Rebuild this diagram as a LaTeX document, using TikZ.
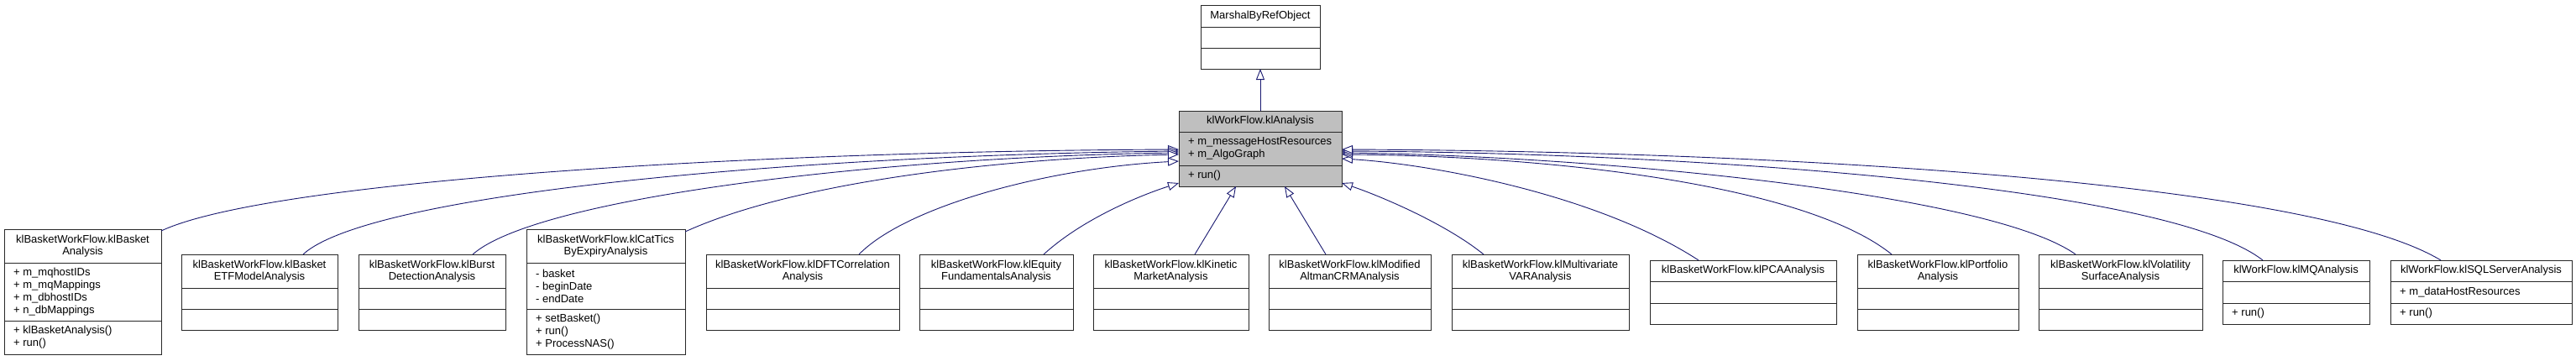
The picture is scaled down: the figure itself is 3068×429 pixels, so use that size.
\documentclass[tikz,border=0pt]{standalone}
\usepackage{fontspec}
\setmainfont{Liberation Sans}
\usetikzlibrary{arrows.meta,fit,calc}
\definecolor{edgec}{RGB}{25,25,112}
\definecolor{boxgray}{RGB}{191,191,191}
\definecolor{boxline}{RGB}{40,40,40}
\newcommand\uclass[7]{\def\ucn{#1}\def\ucl{#2}\def\ucr{#3}\def\uct{#4}\def\ucsa{#5}\def\ucsb{#6}\def\ucb{#7}\uclassB}
\newcommand\uclassB[4]{%
  \node[classbox, fill=#1, fit={(\ucl,\uct) (\ucr,\ucb)}] (\ucn) {};
  \draw[classline] (\ucl,\ucsa) -- (\ucr,\ucsa) (\ucl,\ucsb) -- (\ucr,\ucsb);
  \node[hdr] at ({(\ucl+\ucr)/2},{(\uct+\ucsa)/2}) {#2};
  \node[mem] at ({\ucl+11},{(\ucsa+\ucsb)/2}) {#3};
  \node[mem] at ({\ucl+11},{(\ucsb+\ucb)/2}) {#4};
}
\begin{document}
\begin{tikzpicture}[x=1pt,y=-1pt,
  classbox/.style={draw=boxline, line width=1pt, inner sep=0pt, outer sep=0pt},
  classline/.style={draw=boxline, line width=1pt},
  hdr/.style={inner sep=0pt, align=center, font=\fontsize{13}{14.5}\selectfont},
  mem/.style={inner sep=0pt, align=left, anchor=west, font=\fontsize{13}{15}\selectfont},
  inh/.style={draw=edgec, line width=0.9pt, -{Triangle[length=13pt,width=10pt,fill=white]}},
]
\fill[white] (0,0) rectangle (3068,429);
\useasboundingbox (0,0) rectangle (3068,429);

\uclass{msh}{1430}{1572}{6}{32}{57}{82}{white}{MarshalByRefObject}{}{}
\uclass{ana}{1404}{1598}{132}{157}{197}{222}{boxgray}{klWorkFlow.klAnalysis}{+ m\_messageHostResources\\+ m\_AlgoGraph}{+ run()}

\uclass{kba}{5}{192}{273}{313}{382}{422}{white}{klBasketWorkFlow.klBasket\\Analysis}{+ m\_mqhostIDs\\+ m\_mqMappings\\+ m\_dbhostIDs\\+ n\_dbMappings}{+ klBasketAnalysis()\\+ run()}
\uclass{etf}{216}{402}{303}{343}{368}{393}{white}{klBasketWorkFlow.klBasket\\ETFModelAnalysis}{}{}
\uclass{bur}{427}{602}{303}{343}{368}{393}{white}{klBasketWorkFlow.klBurst\\DetectionAnalysis}{}{}
\uclass{cat}{627}{816}{273}{313}{368}{422}{white}{klBasketWorkFlow.klCatTics\\ByExpiryAnalysis}{- basket\\- beginDate\\- endDate}{+ setBasket()\\+ run()\\+ ProcessNAS()}
\uclass{dft}{841}{1071}{303}{343}{368}{393}{white}{klBasketWorkFlow.klDFTCorrelation\\Analysis}{}{}
\uclass{equ}{1095}{1278}{303}{343}{368}{393}{white}{klBasketWorkFlow.klEquity\\FundamentalsAnalysis}{}{}
\uclass{kin}{1302}{1487}{303}{343}{368}{393}{white}{klBasketWorkFlow.klKinetic\\MarketAnalysis}{}{}
\uclass{mod}{1511}{1704}{303}{343}{368}{393}{white}{klBasketWorkFlow.klModified\\AltmanCRMAnalysis}{}{}
\uclass{mul}{1729}{1940}{303}{343}{368}{393}{white}{klBasketWorkFlow.klMultivariate\\VARAnalysis}{}{}
\uclass{pca}{1965}{2187}{310}{335}{361}{386}{white}{klBasketWorkFlow.klPCAAnalysis}{}{}
\uclass{por}{2212}{2404}{303}{343}{368}{393}{white}{klBasketWorkFlow.klPortfolio\\Analysis}{}{}
\uclass{vol}{2428}{2623}{303}{343}{368}{393}{white}{klBasketWorkFlow.klVolatility\\SurfaceAnalysis}{}{}
\uclass{mq}{2647}{2822}{310}{335}{361}{386}{white}{klWorkFlow.klMQAnalysis}{}{+ run()}
\uclass{sql}{2847}{3063}{310}{335}{361}{386}{white}{klWorkFlow.klSQLServerAnalysis}{+ m\_dataHostResources}{+ run()}

% inheritance
\draw[inh] (ana.north) -- (msh.south);
\draw[inh] ($(kba.north east)+(0,2)$) .. controls (320,215) and (900,180) .. ($(ana.west)+(0,1)$);
\draw[inh] ($(etf.north)+(52,0)$) .. controls (440,230) and (950,185) .. ($(ana.west)+(0,3)$);
\draw[inh] ($(bur.north)+(48.5,0)$) .. controls (640,235) and (1050,187) .. ($(ana.west)+(0,5)$);
\draw[inh] ($(cat.north east)+(0,3)$) .. controls (950,215) and (1200,188) .. ($(ana.west)+(0,7)$);
\draw[inh] ($(dft.north)+(67,0)$) .. controls (1080,245) and (1250,200) .. ($(ana.west)+(0,15)$);
\draw[inh] ($(equ.north)+(56.5,0)$) .. controls (1290,260) and (1360,232) .. ($(ana.west)+(0,41)$);
\draw[inh] ($(kin.north)+(28.5,0)$) -- ($(ana.south)+(-29,0)$);
\draw[inh] ($(mod.north)+(-28.5,0)$) -- ($(ana.south)+(29,0)$);
\draw[inh] ($(mul.north)+(-67.5,0)$) .. controls (1720,265) and (1640,232) .. ($(ana.east)+(0,41)$);
\draw[inh] ($(pca.north)+(-53,0)$) .. controls (1900,230) and (1700,195) .. ($(ana.east)+(0,12)$);
\draw[inh] ($(por.north)+(-55,0)$) .. controls (2150,220) and (1850,186) .. ($(ana.east)+(0,7)$);
\draw[inh] ($(vol.north)+(-53.5,0)$) .. controls (2370,230) and (1900,186) .. ($(ana.east)+(0,5)$);
\draw[inh] ($(mq.north)+(-39.5,0)$) .. controls (2580,220) and (2000,182) .. ($(ana.east)+(0,3)$);
\draw[inh] ($(sql.north)+(-48,0)$) .. controls (2750,215) and (2100,180) .. ($(ana.east)+(0,1)$);
\end{tikzpicture}
\end{document}
